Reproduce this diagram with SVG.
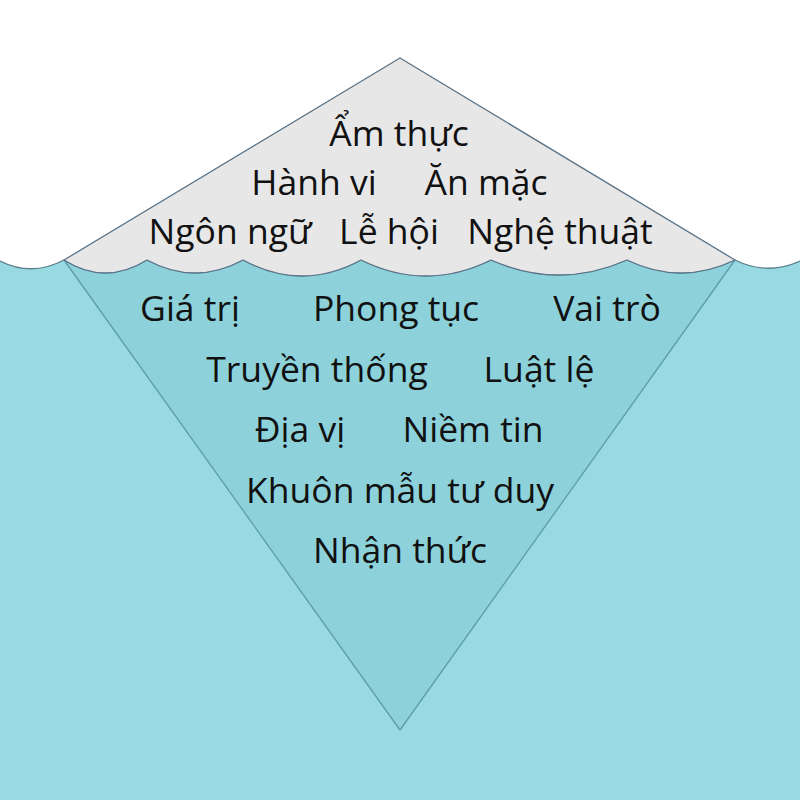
<svg xmlns="http://www.w3.org/2000/svg" width="800" height="800" viewBox="0 0 800 800">
  <defs>
    <style>
      .lbl { font-family: "Open Sans", "Noto Sans", "DejaVu Sans", sans-serif; font-size: 35.5px; fill: #111; text-anchor: middle; }
      .water { fill: #98DAE2; stroke: none; }
      .wave { fill: none; stroke: #5B7F8C; stroke-width: 1.3; }
      .under { fill: #8DD2DB; stroke: #5E9CA8; stroke-width: 1.3; stroke-linejoin: round; }
      .ice { fill: #E7E7E8; stroke: #5B7487; stroke-width: 1.3; stroke-linejoin: round; }
    </style>
  </defs>
  <rect width="800" height="800" fill="#FFFFFF"/>
  <g id="water">
    <path class="water" d="M0,261 Q32,277 64,260 Q105,286 147,260 Q195,286 243,260 Q302,292 361,260 Q426,292 491,260 Q559,290 627,260 Q681,286 735,260 Q767,276 800,261 L800,800 L0,800 Z"/>
    <path class="wave" d="M0,261 Q32,277 64,260 M735,260 Q767,276 800,261"/>
  </g>
  <g id="underwater">
    <path class="under" d="M64,260 Q105,286 147,260 Q195,286 243,260 Q302,292 361,260 Q426,292 491,260 Q559,290 627,260 Q681,286 735,260 L400,730 Z"/>
  </g>
  <g id="iceberg-tip">
    <path class="ice" d="M400,58 L735,260 Q681,286 627,260 Q559,290 491,260 Q426,292 361,260 Q302,292 243,260 Q195,286 147,260 Q105,286 64,260 Z"/>
  </g>
  <g id="visible-labels">
    <text class="lbl" x="399" y="146">Ẩm thực</text>
    <text class="lbl" x="314" y="195">Hành vi</text>
    <text class="lbl" x="486" y="195">Ăn mặc</text>
    <text class="lbl" x="230" y="244">Ngôn ngữ</text>
    <text class="lbl" x="389" y="244">Lễ hội</text>
    <text class="lbl" x="560" y="244">Nghệ thuật</text>
  </g>
  <g id="hidden-labels">
    <text class="lbl" x="190" y="321">Giá trị</text>
    <text class="lbl" x="396" y="321">Phong tục</text>
    <text class="lbl" x="607" y="321">Vai trò</text>
    <text class="lbl" x="317" y="382">Truyền thống</text>
    <text class="lbl" x="539" y="382">Luật lệ</text>
    <text class="lbl" x="300" y="442">Địa vị</text>
    <text class="lbl" x="473" y="442">Niềm tin</text>
    <text class="lbl" x="400" y="503">Khuôn mẫu tư duy</text>
    <text class="lbl" x="400" y="563">Nhận thức</text>
  </g>
</svg>
